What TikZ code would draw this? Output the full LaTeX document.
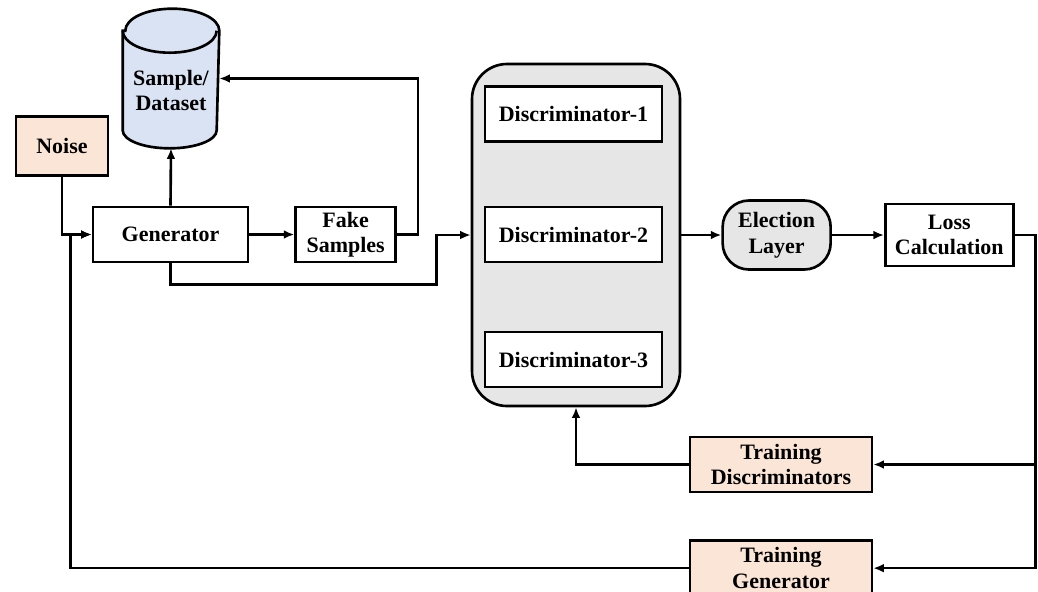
\documentclass[tikz,border=0pt]{standalone}
\usepackage{fontspec}
\setmainfont{Liberation Serif}
\usetikzlibrary{arrows.meta, positioning}
\definecolor{peach}{HTML}{FBE5D6}
\definecolor{lblue}{HTML}{DAE3F3}
\definecolor{lgray}{HTML}{E7E6E6}
\begin{document}
\begin{tikzpicture}[font=\fontsize{12.5}{14.5}\selectfont\bfseries, line width=1.5pt]
\tikzset{block/.style={rectangle, align=center, draw, fill=white, minimum height=1.1cm, inner sep=2pt},
		train/.style={block, fill=peach, minimum width=3.64cm},
		disc/.style={block, minimum width=3.54cm},
		vote/.style={rectangle, rounded corners=15pt, align=center, draw, fill=lgray, minimum width=2.16cm, minimum height=1.38cm},
		arr/.style={-{Latex[length=6pt, width=5pt]}}}
\useasboundingbox (0,0) rectangle (20.76,-11.82);
\clip (0,0) rectangle (20.76,-11.82);
\node[block, fill=peach, minimum width=1.84cm, minimum height=1.18cm] (NS) at (1.24,-2.92) {Noise};
\node[block, minimum width=3.1cm] (Gen) at (3.41,-4.69) {Generator};
\node[block, right=0.9cm of Gen, minimum width=2cm] (FS) {Fake\\Samples};
% dataset cylinder
\node[rectangle, minimum width=1.88cm, minimum height=2.74cm] (DS) at (3.42,-1.57) {};
\draw[fill=lblue] ([yshift=-0.44cm]DS.north west) -- ([yshift=0.36cm]DS.south west)
	arc[start angle=180, end angle=360, x radius=0.94cm, y radius=0.36cm]
	-- ([yshift=-0.44cm]DS.north east)
	arc[start angle=0, end angle=180, x radius=0.94cm, y radius=0.44cm] -- cycle;
\draw ([yshift=-0.44cm]DS.north west) arc[start angle=180, end angle=360, x radius=0.94cm, y radius=0.44cm];
\node[align=center] (DSt) at ([yshift=-0.24cm]DS.center) {Sample/\\Dataset};
% discriminators
\node[rectangle, draw, fill=lgray, rounded corners=0.7cm, minimum width=4.16cm, minimum height=6.84cm] (DC) at (11.52,-4.70) {};
\node[disc] (D1) at (11.47,-2.28) {Discriminator-1};
\node[disc] (D2) at (11.47,-4.69) {Discriminator-2};
\node[disc] (D3) at (11.47,-7.19) {Discriminator-3};
\node[vote, right=0.8cm of DC] (EL) {Election\\Layer};
\node[block, right=1.04cm of EL, minimum width=2.56cm, minimum height=1.24cm] (LC) {Loss\\Calculation};
\node[train] (TD) at (15.62,-9.29) {Training\\Discriminators};
\node[train, below=0.92cm of TD] (TG) {Training\\Generator};
% generator side
\draw[arr] (NS.south) |- (Gen.west);
\draw[arr] (Gen.north) -- (DS.south);
\draw[arr] (Gen) -- (FS);
\draw[arr] (FS.east) -- ++(0.42,0) |- (DS.east);
\draw[arr] (Gen.south) -- ++(0,-0.42) -| ([xshift=-0.68cm]DC.west) -- (DC.west);
% discriminator side
\draw[arr] (DC) -- (EL);
\draw[arr] (EL) -- (LC);
\draw[arr] (LC.east) -- ++(0.42,0) |- (TD.east);
\draw[arr] (LC.east) -- ++(0.42,0) |- (TG.east);
\draw[arr] (TD.west) -| (DC.south);
\draw[arr] (TG.west) -| ([xshift=-0.42cm]Gen.west) -- (Gen.west);
\end{tikzpicture}
\end{document}
